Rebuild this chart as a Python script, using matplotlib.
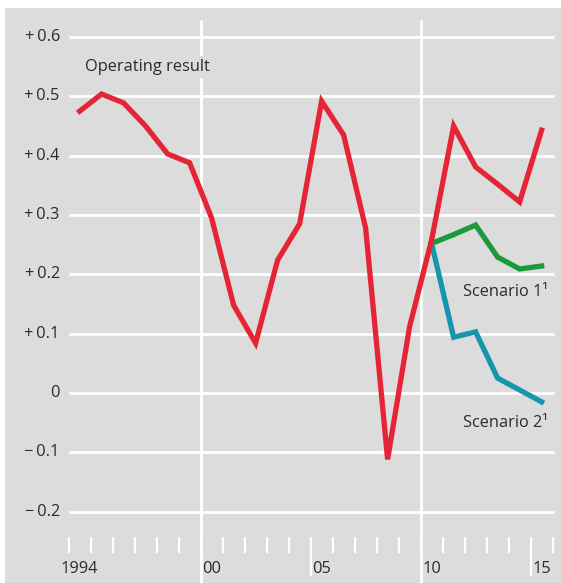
import numpy as np
import matplotlib
matplotlib.use("Agg")
import matplotlib.pyplot as plt

# data (index points plotted at mid-year)
years = np.arange(1994, 2016) + 0.5
operating = [0.475, 0.504, 0.489, 0.450, 0.403, 0.388, 0.295, 0.148, 0.084, 0.224, 0.285,
             0.492, 0.435, 0.278, -0.112, 0.112, 0.258, 0.450, 0.381, 0.352, 0.322, 0.443]
scen_years = np.arange(2010, 2016) + 0.5
scenario1 = [0.252, 0.267, 0.283, 0.229, 0.209, 0.214]
scenario2 = [0.252, 0.094, 0.103, 0.025, 0.005, -0.015]
yticks = [0.6, 0.5, 0.4, 0.3, 0.2, 0.1, 0.0, -0.1, -0.2]
ytick_labels = ["+\u20090.6", "+\u20090.5", "+\u20090.4", "+\u20090.3", "+\u20090.2", "+\u20090.1",
                "0", "\u2212\u20090.1", "\u2212\u20090.2"]
xlabel_years = [1994, 2000, 2005, 2010, 2015]
xlabel_text = ["1994", "00", "05", "10", "15"]

bg = "#dcdcdc"
red = "#e52535"
green = "#1a9a3a"
blue = "#1596ac"
txt = "#2b2b2b"
fs = 11.8

plt.rcParams['font.family'] = ['Open Sans', 'DejaVu Sans']

fig = plt.figure(figsize=(5.61, 5.83), dpi=100, facecolor="white")
ax = fig.add_axes([5/561, 0, 1 - 5/561, 575/583])
ax.set_facecolor(bg)
ax.set_xlim(1991.11, 2016.38)
ax.set_ylim(-0.3204, 0.649)
ax.axis("off")
ax.add_patch(plt.Rectangle((0, 0), 1, 1, transform=ax.transAxes, color=bg, zorder=0))

# horizontal grid
for v in yticks:
    ax.plot([1994.02, 2016.06], [v, v], color="white", lw=2.0, zorder=1, solid_capstyle="butt")
# vertical separators
for xv in [2000, 2010]:
    ax.plot([xv, xv], [0.629, -0.33], color="white", lw=2.0, zorder=1, solid_capstyle="butt")
# bottom ticks
for yr in range(1994, 2017):
    low = -0.3086 if yr in (2005, 2015) else -0.2698
    ax.plot([yr, yr], [-0.2428, low], color="white", lw=1.6, zorder=1, solid_capstyle="butt")

# y labels
for v, s in zip(yticks, ytick_labels):
    ax.text(1993.6, v, s, ha="right", va="center", fontsize=fs, color=txt)
# x labels
for yr, s in zip(xlabel_years, xlabel_text):
    ax.text(yr + 0.5, -0.296, s, ha="center", va="center", fontsize=fs, color=txt)

ax.plot(years, operating, color=red, lw=3.8, zorder=3, solid_joinstyle="miter")
ax.plot(scen_years, scenario1, color=green, lw=3.8, zorder=2, solid_joinstyle="miter")
ax.plot(scen_years, scenario2, color=blue, lw=3.8, zorder=2, solid_joinstyle="miter")

ax.text(1994.75, 0.55, "Operating result", ha="left", va="center", fontsize=fs, color=txt,
        zorder=4, bbox=dict(facecolor=bg, edgecolor="none", pad=2))
ax.text(2011.93, 0.17, "Scenario 1\u00b9", ha="left", va="center", fontsize=fs, color=txt, zorder=4)
ax.text(2011.93, -0.051, "Scenario 2\u00b9", ha="left", va="center", fontsize=fs, color=txt, zorder=4)

fig.savefig("out.png", dpi=100, facecolor="white")
